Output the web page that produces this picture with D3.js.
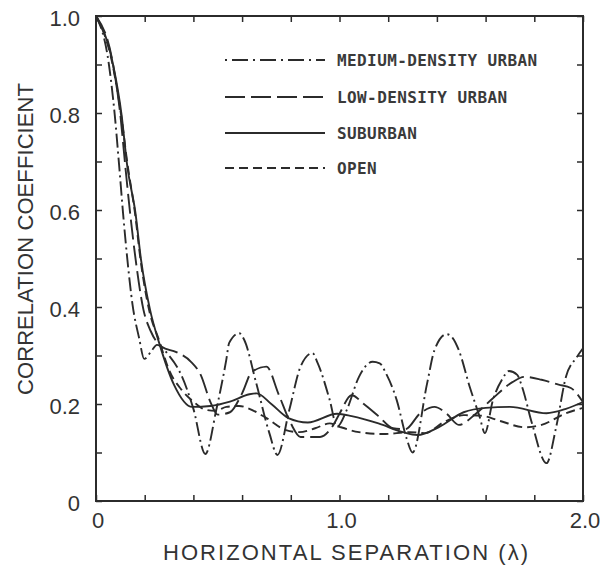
<!DOCTYPE html>
<html>
<head>
<meta charset="utf-8">
<script src="https://cdn.jsdelivr.net/npm/d3@7"></script>
<style>
  body { margin: 0; background: #fff; }
  svg { display: block; }
</style>
</head>
<body>
<svg id="chart"></svg>
<script>
/* DATA - values, [separation (lambda), correlation] */
const mediumUrban = [
  [0, 1.0], [0.053, 0.9], [0.077, 0.796], [0.095, 0.692], [0.111, 0.594], [0.129, 0.497],
  [0.15, 0.405], [0.177, 0.336], [0.198, 0.293], [0.23, 0.311], [0.25, 0.322], [0.3, 0.3],
  [0.35, 0.26], [0.4, 0.19], [0.449, 0.097], [0.494, 0.188], [0.535, 0.291], [0.547, 0.326],
  [0.588, 0.346], [0.609, 0.332], [0.658, 0.243], [0.712, 0.14], [0.745, 0.095], [0.794, 0.188],
  [0.84, 0.277], [0.889, 0.305], [0.91, 0.285], [0.96, 0.208], [0.99, 0.153], [1.03, 0.188],
  [1.08, 0.256], [1.136, 0.287], [1.165, 0.284], [1.19, 0.264], [1.235, 0.208], [1.275, 0.13],
  [1.3, 0.1], [1.36, 0.243], [1.39, 0.311], [1.44, 0.344], [1.465, 0.336], [1.49, 0.311],
  [1.535, 0.235], [1.576, 0.173], [1.597, 0.14], [1.63, 0.208], [1.667, 0.25], [1.696, 0.268],
  [1.73, 0.26], [1.75, 0.235], [1.79, 0.161], [1.85, 0.078], [1.89, 0.153], [1.93, 0.256],
  [1.975, 0.297], [2.0, 0.315]
];
const lowUrban = [
  [0, 1.0], [0.07, 0.9], [0.1, 0.796], [0.12, 0.692], [0.14, 0.594], [0.163, 0.497],
  [0.195, 0.394], [0.225, 0.35], [0.27, 0.318], [0.33, 0.307], [0.39, 0.287], [0.43, 0.26],
  [0.47, 0.204], [0.5, 0.178], [0.55, 0.183], [0.6, 0.222], [0.64, 0.266], [0.7, 0.277],
  [0.75, 0.22], [0.8, 0.16], [0.84, 0.132], [0.92, 0.132], [0.97, 0.153], [1.0, 0.18],
  [1.05, 0.218], [1.1, 0.2], [1.16, 0.175], [1.22, 0.15], [1.27, 0.148], [1.33, 0.18],
  [1.39, 0.194], [1.44, 0.18], [1.49, 0.157], [1.56, 0.18], [1.63, 0.212], [1.71, 0.245],
  [1.76, 0.256], [1.83, 0.25], [1.9, 0.24], [1.95, 0.233], [2.0, 0.204]
];
const suburban = [
  [0, 1.0], [0.07, 0.9], [0.105, 0.796], [0.128, 0.692], [0.162, 0.594], [0.185, 0.497],
  [0.222, 0.394], [0.26, 0.325], [0.32, 0.24], [0.395, 0.194], [0.47, 0.196], [0.55, 0.205],
  [0.63, 0.22], [0.66, 0.222], [0.72, 0.2], [0.79, 0.171], [0.87, 0.162], [0.99, 0.18],
  [1.05, 0.175], [1.16, 0.16], [1.26, 0.142], [1.32, 0.136], [1.41, 0.153], [1.51, 0.183],
  [1.6, 0.192], [1.7, 0.194], [1.85, 0.181], [1.93, 0.19], [2.0, 0.204]
];
const open = [
  [0, 1.0], [0.068, 0.9], [0.103, 0.796], [0.13, 0.692], [0.16, 0.594], [0.183, 0.497],
  [0.218, 0.394], [0.26, 0.33], [0.3, 0.27], [0.35, 0.23], [0.4, 0.205], [0.45, 0.188],
  [0.49, 0.186], [0.535, 0.194], [0.588, 0.196], [0.63, 0.19], [0.7, 0.171], [0.78, 0.146],
  [0.835, 0.142], [0.9, 0.15], [0.96, 0.16], [1.0, 0.153], [1.08, 0.142], [1.18, 0.138],
  [1.29, 0.142], [1.35, 0.14], [1.43, 0.163], [1.51, 0.177], [1.58, 0.176], [1.66, 0.165],
  [1.76, 0.152], [1.83, 0.157], [1.93, 0.181], [2.0, 0.192]
];

const seriesNames = ["MEDIUM-DENSITY URBAN", "LOW-DENSITY URBAN", "SUBURBAN", "OPEN"];
const seriesData = [mediumUrban, lowUrban, suburban, open];

const yTicksMajor = [0, 0.2, 0.4, 0.6, 0.8, 1.0];
const yTickLabels = ["0", "0.2", "0.4", "0.6", "0.8", "1.0"];
const xTicksLabelled = [0, 1.0, 2.0];
const xTickLabels = ["0", "1.0", "2.0"];

/* LAYOUT */
const width = 604, height = 569;
const margin = { top: 16, right: 21, bottom: 68, left: 96 };

// line styles per series (same order as seriesNames)
const dashes = ["14,4,2,4", "20,6", null, "9,5"];
const ink = "#2b2b2b";

const svg = d3.select("#chart")
  .attr("width", width)
  .attr("height", height);

const x = d3.scaleLinear().domain([0, 2]).range([margin.left, width - margin.right]);
const y = d3.scaleLinear().domain([0, 1]).range([height - margin.bottom, margin.top]);

// inward ticks on all four sides
const tickLen = 6;
const xMinor = d3.range(0, 2.01, 0.2);
const yMinor = d3.range(0, 1.01, 0.1);

svg.append("g")
  .attr("transform", `translate(0,${y(0)})`)
  .call(d3.axisBottom(x).tickValues(xMinor).tickSize(-tickLen).tickFormat(""))
  .call(g => g.select(".domain").remove());
svg.append("g")
  .attr("transform", `translate(0,${y(1)})`)
  .call(d3.axisTop(x).tickValues(xMinor).tickSize(-tickLen).tickFormat(""))
  .call(g => g.select(".domain").remove());
svg.append("g")
  .attr("transform", `translate(${x(0)},0)`)
  .call(d3.axisLeft(y).tickValues(yMinor).tickSize(-tickLen).tickFormat(""))
  .call(g => g.select(".domain").remove());
svg.append("g")
  .attr("transform", `translate(${x(2)},0)`)
  .call(d3.axisRight(y).tickValues(yMinor).tickSize(-tickLen).tickFormat(""))
  .call(g => g.select(".domain").remove());

svg.selectAll(".tick line").attr("stroke", ink).attr("stroke-width", 1.5);

// frame
svg.append("rect")
  .attr("x", x(0))
  .attr("y", y(1))
  .attr("width", x(2) - x(0))
  .attr("height", y(0) - y(1))
  .attr("fill", "none")
  .attr("stroke", ink)
  .attr("stroke-width", 2);

// tick labels
svg.append("g").selectAll("text")
  .data(yTicksMajor)
  .join("text")
  .attr("x", x(0) - 16)
  .attr("y", d => y(d) + 2)
  .attr("dy", "0.35em")
  .attr("text-anchor", "end")
  .attr("font-family", "Liberation Sans, Arial, sans-serif")
  .attr("font-size", 22)
  .attr("fill", "#333")
  .text((d, i) => yTickLabels[i]);

svg.append("g").selectAll("text")
  .data(xTicksLabelled)
  .join("text")
  .attr("x", d => x(d) + 2)
  .attr("y", y(0) + 27)
  .attr("text-anchor", "middle")
  .attr("font-family", "Liberation Sans, Arial, sans-serif")
  .attr("font-size", 22)
  .attr("fill", "#333")
  .text((d, i) => xTickLabels[i]);

// axis titles
svg.append("text")
  .attr("x", 163)
  .attr("y", 560)
  .attr("textLength", 365)
  .attr("lengthAdjust", "spacing")
  .attr("font-family", "Liberation Sans, Arial, sans-serif")
  .attr("font-size", 22)
  .attr("fill", "#333")
  .text("HORIZONTAL SEPARATION (λ)");

svg.append("text")
  .attr("transform", "translate(33,395) rotate(-90)")
  .attr("textLength", 312)
  .attr("lengthAdjust", "spacing")
  .attr("font-family", "Liberation Sans, Arial, sans-serif")
  .attr("font-size", 22)
  .attr("fill", "#333")
  .text("CORRELATION COEFFICIENT");

// curves
const line = d3.line()
  .x(d => x(d[0]))
  .y(d => y(d[1]))
  .curve(d3.curveMonotoneX);

const plot = svg.append("g");
plot.append("clipPath").attr("id", "clip")
  .append("rect")
  .attr("x", x(0)).attr("y", y(1) - 2)
  .attr("width", x(2) - x(0)).attr("height", y(0) - y(1) + 2);

plot.selectAll("path")
  .data(seriesData)
  .join("path")
  .attr("clip-path", "url(#clip)")
  .attr("d", line)
  .attr("fill", "none")
  .attr("stroke", ink)
  .attr("stroke-width", 1.9)
  .attr("stroke-dasharray", (d, i) => dashes[i]);

// legend
const legendRowY = [60, 97, 133, 168];
const legend = svg.append("g");
legend.selectAll("line")
  .data(seriesNames)
  .join("line")
  .attr("x1", 225)
  .attr("x2", 325)
  .attr("y1", (d, i) => legendRowY[i])
  .attr("y2", (d, i) => legendRowY[i])
  .attr("stroke", ink)
  .attr("stroke-width", 1.9)
  .attr("stroke-dasharray", (d, i) => i === 0 ? "2,5,16,5" : dashes[i]);

legend.selectAll("text")
  .data(seriesNames)
  .join("text")
  .attr("x", 337)
  .attr("y", (d, i) => legendRowY[i] + 6)
  .attr("font-family", "DejaVu Sans Mono, monospace")
  .attr("font-size", 16)
  .attr("font-weight", "bold")
  .attr("letter-spacing", 0.4)
  .attr("fill", "#3a3a3a")
  .text(d => d);
</script>
</body>
</html>
